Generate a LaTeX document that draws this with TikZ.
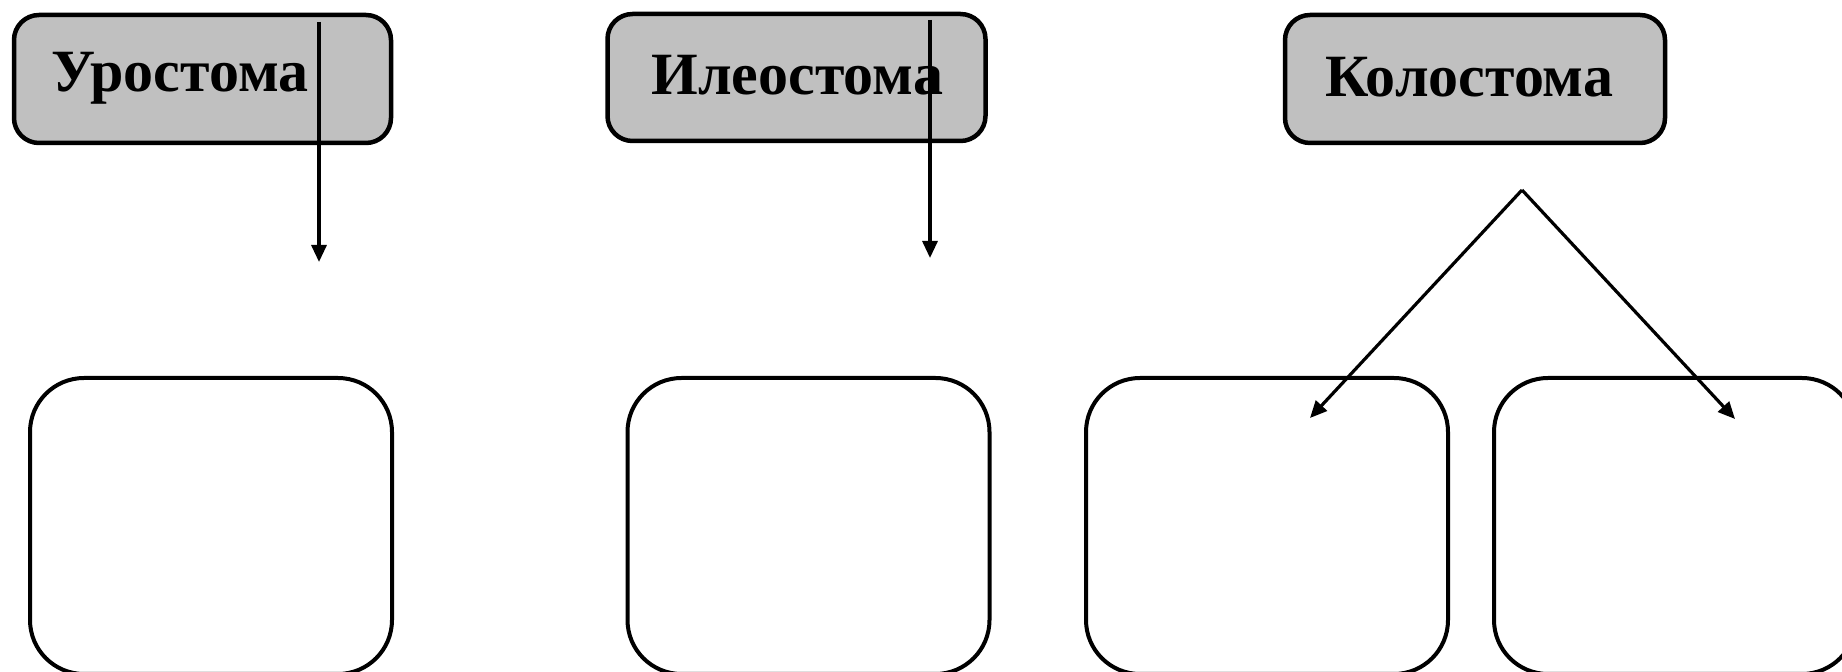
\documentclass[tikz,border=0pt]{standalone}
\usepackage{fontspec}
\setmainfont{Liberation Serif}
\usetikzlibrary{arrows.meta}
\definecolor{boxgray}{RGB}{192,192,192}
\tikzset{
  topbox/.style={draw=black, fill=boxgray, line width=2.25pt, rounded corners=12.5pt, inner sep=0pt},
  botbox/.style={draw=black, fill=white, line width=2pt, rounded corners=27pt, inner sep=0pt,
                 minimum width=181pt, minimum height=148pt},
  title/.style={anchor=base west, inner sep=0pt, font=\fontsize{30pt}{35pt}\selectfont\bfseries},
  conn/.style={line width=1.6pt, -{Triangle[length=8.5pt, width=7.5pt]}}
}
\begin{document}
\begin{tikzpicture}[x=0.5pt, y=-0.5pt]
\useasboundingbox (0,0) rectangle (1842,672);
\fill[white] (0,0) rectangle (1842,672);
% top boxes
\node[topbox, minimum width=188.5pt, minimum height=64pt] (u) at (202.5,79) {};
\node[topbox, minimum width=189pt, minimum height=63.5pt] (i) at (796.5,77.5) {};
\node[topbox, minimum width=190pt, minimum height=64pt] (k) at (1475,79) {};
\node[title] (ut) at (51,92) {Уростома};
\node[title] (it) at (651,95) {Илеостома};
\node[title] (kt) at (1325,97) {Колостома};
% bottom boxes
\node[botbox] (b1) at (211,526) {};
\node[botbox] (b2) at (808.5,526) {};
\node[botbox] (b3) at (1267,526) {};
\node[botbox] (b4) at (1675,526) {};
% connectors
\coordinate (us) at (319,22);
\coordinate (ue) at (319,262);
\coordinate (is) at (930,20);
\coordinate (ie) at (930,258);
\coordinate (apex) at (1522,190);
\coordinate (kl) at (1310,418);
\coordinate (kr) at (1735,419);
\draw[conn] (us) -- (ue);
\draw[conn] (is) -- (ie);
\draw[conn] (apex) -- (kl);
\draw[conn] (apex) -- (kr);
\end{tikzpicture}
\end{document}
